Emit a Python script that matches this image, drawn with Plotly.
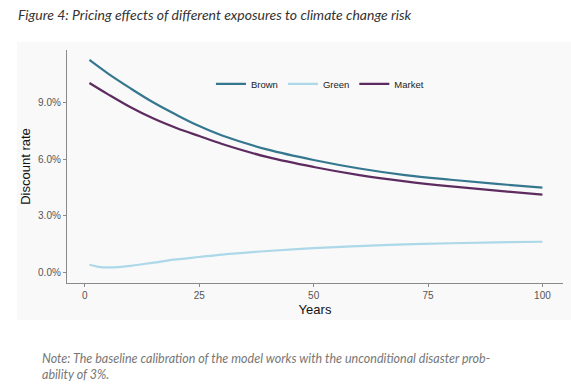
import plotly.graph_objects as go

years_brown = [1, 5, 10, 15, 20, 25, 30, 40, 50, 60, 70, 80, 90, 100]
brown = [11.26, 10.55, 9.75, 9.0, 8.35, 7.75, 7.25, 6.5, 5.95, 5.5, 5.15, 4.9, 4.68, 4.48]
years_market = [1, 5, 10, 15, 20, 25, 30, 40, 50, 60, 70, 80, 90, 100]
market = [10.04, 9.45, 8.75, 8.15, 7.65, 7.22, 6.8, 6.1, 5.58, 5.15, 4.82, 4.55, 4.32, 4.11]
years_green = [1, 3, 5, 8, 10, 15, 20, 25, 30, 40, 50, 60, 70, 80, 90, 100]
green = [0.39, 0.28, 0.25, 0.28, 0.33, 0.5, 0.67, 0.8, 0.93, 1.12, 1.27, 1.38, 1.47, 1.53, 1.58, 1.61]

x_ticks = [0, 25, 50, 75, 100]
y_ticks = [0.0, 0.03, 0.06, 0.09]

colors = {"Brown": "#34778f", "Green": "#acd8e8", "Market": "#5d2b60"}

fig = go.Figure()
for name, xs, ys in [("Brown", years_brown, brown), ("Green", years_green, green), ("Market", years_market, market)]:
    fig.add_trace(go.Scatter(
        x=xs, y=[v / 100 for v in ys], mode="lines", name=name,
        line=dict(color=colors[name], width=2.2, shape="spline", smoothing=1.0),
    ))

# light panel behind the chart
fig.add_shape(type="rect", xref="paper", yref="paper",
              x0=-50 / 496, x1=8 / 496 + 1, y0=-37 / 233, y1=1 + 8 / 233,
              fillcolor="#f9f9f9", line=dict(width=0), layer="below")

fig.update_layout(
    width=571, height=385,
    margin=dict(l=67, r=8, t=50, b=102, autoexpand=False),
    paper_bgcolor="white", plot_bgcolor="#fdfdfd",
    font=dict(family="Liberation Sans, Arial, sans-serif", color="#222"),
    title=dict(text="Figure 4: Pricing effects of different exposures to climate change risk",
               x=18 / 571, xanchor="left", y=1 - 15 / 385, yanchor="middle", automargin=False,
               font=dict(family="Lato, Open Sans, sans-serif", size=14, color="#333", style="italic")),
    showlegend=True,
    legend=dict(orientation="h", x=0.51, xanchor="center", y=0.855, yanchor="middle",
                bgcolor="rgba(0,0,0,0)", font=dict(size=9.5, color="#222"),
                itemwidth=30, tracegroupgap=0),
    xaxis=dict(range=[-3.9, 104.5], tickvals=x_ticks, ticktext=[str(v) for v in x_ticks],
               showgrid=False, zeroline=False, showline=True, linecolor="#8a8a8a", linewidth=1.3,
               ticks="outside", ticklen=3, tickcolor="#8a8a8a", tickfont=dict(size=10, color="#555"),
               automargin=False,
               title=dict(text="Years", font=dict(size=13, color="#111"), standoff=4)),
    yaxis=dict(range=[-0.0058, 0.1179], tickvals=y_ticks, tickformat=".1%",
               showgrid=False, zeroline=False, showline=True, linecolor="#8a8a8a", linewidth=1.3,
               ticks="outside", ticklen=3, tickcolor="#8a8a8a", tickfont=dict(size=10, color="#555"),
               automargin=False,
               title=dict(text="Discount rate", font=dict(size=13, color="#111"), standoff=4)),
)

fig.add_annotation(
    text="Note: The baseline calibration of the model works with the unconditional disaster prob-<br>ability of 3%.",
    xref="paper", yref="paper", x=-27 / 496, xanchor="left", y=-(349 - 283) / 233, yanchor="top",
    showarrow=False, align="left",
    font=dict(family="Lato, Open Sans, sans-serif", size=12.5, color="#777", style="italic"))

fig.write_html("out.html", config={"displayModeBar": False},
               post_script="document.body.style.margin='0';document.body.style.overflow='hidden';")
